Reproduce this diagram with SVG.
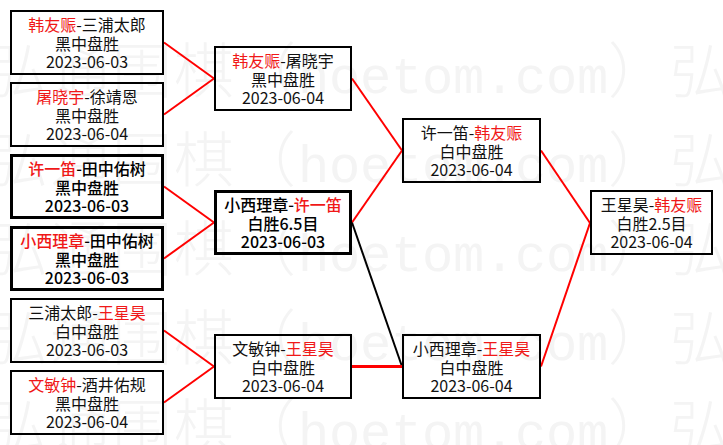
<svg xmlns="http://www.w3.org/2000/svg" xmlns:xlink="http://www.w3.org/1999/xlink" width="723" height="445" viewBox="0 0 723 445">
<style>
.wm{fill:#f4f4f4}
.wc{font-family:"Noto Sans CJK SC",sans-serif;font-size:60px;font-weight:300}
.wl{font-family:"Liberation Mono",monospace;font-size:52px}
.box{fill:none;stroke:#000;stroke-width:2}
.box.b{stroke-width:3}
.t{font-family:"Noto Sans CJK SC","Noto Sans CJK JP",sans-serif;font-size:16px;fill:#111;text-anchor:middle}
.t.b{font-weight:500;fill:#000}
.r{fill:#f01818}
.cr{stroke:#ff0000;stroke-width:2;fill:none}
.ck{stroke:#000;stroke-width:2;fill:none}
</style>
<defs>
<text id="wmrow" class="wm"><tspan class="wc" x="-12 50 112 174 236">弘通围棋（</tspan><tspan class="wl" x="298 329 360 391 422 453 484 515 546 577">hoetom.com</tspan><tspan class="wc" x="608 670">）弘</tspan></text>
</defs>
<rect width="723" height="445" fill="#fff"/>
<g id="watermark">
<use xlink:href="#wmrow" href="#wmrow" y="93"/>
<use xlink:href="#wmrow" href="#wmrow" y="182"/>
<use xlink:href="#wmrow" href="#wmrow" y="271"/>
<use xlink:href="#wmrow" href="#wmrow" y="360"/>
<use xlink:href="#wmrow" href="#wmrow" y="449"/>
</g>
<g id="connectors">
<line class="cr" x1="164" y1="42.5" x2="214" y2="78.5"/>
<line class="cr" x1="164" y1="114.5" x2="214" y2="78.5"/>
<line class="cr" x1="164" y1="186.5" x2="214" y2="222.5"/>
<line class="cr" x1="164" y1="258.5" x2="214" y2="222.5"/>
<line class="cr" x1="164" y1="330.5" x2="214" y2="366.5"/>
<line class="cr" x1="164" y1="402.5" x2="214" y2="366.5"/>
<line class="cr" x1="352" y1="78.5" x2="402" y2="150.5"/>
<line class="cr" x1="352" y1="222.5" x2="402" y2="150.5"/>
<line class="ck" x1="352" y1="222.5" x2="402" y2="366.5"/>
<line class="cr" x1="352" y1="366.5" x2="402" y2="366.5" style="stroke-width:3"/>
<line class="cr" x1="541" y1="150.5" x2="590" y2="223"/>
<line class="cr" x1="541" y1="366.5" x2="590" y2="223"/>
</g>
<g id="n1">
<rect class="box" x="11" y="11" width="152" height="63"/>
<text class="t" x="87" y="31"><tspan class="r">韩友赈</tspan>-三浦太郎</text>
<text class="t" x="87" y="49.5">黑中盘胜</text>
<text class="t" x="87" y="67.5">2023-06-03</text>
</g>
<g id="n2">
<rect class="box" x="11" y="83" width="152" height="63"/>
<text class="t" x="87" y="103"><tspan class="r">屠晓宇</tspan>-徐靖恩</text>
<text class="t" x="87" y="121.5">黑中盘胜</text>
<text class="t" x="87" y="139.5">2023-06-04</text>
</g>
<g id="n3">
<rect class="box b" x="11.5" y="155.5" width="151" height="62"/>
<text class="t b" x="87" y="175"><tspan class="r">许一笛</tspan>-田中佑树</text>
<text class="t b" x="87" y="193.5">黑中盘胜</text>
<text class="t b" x="87" y="211.5">2023-06-03</text>
</g>
<g id="n4">
<rect class="box b" x="11.5" y="227.5" width="151" height="62"/>
<text class="t b" x="87" y="247"><tspan class="r">小西理章</tspan>-田中佑树</text>
<text class="t b" x="87" y="265.5">黑中盘胜</text>
<text class="t b" x="87" y="283.5">2023-06-03</text>
</g>
<g id="n5">
<rect class="box" x="11" y="299" width="152" height="63"/>
<text class="t" x="87" y="319">三浦太郎-<tspan class="r">王星昊</tspan></text>
<text class="t" x="87" y="337.5">白中盘胜</text>
<text class="t" x="87" y="355.5">2023-06-03</text>
</g>
<g id="n6">
<rect class="box" x="11" y="371" width="152" height="63"/>
<text class="t" x="87" y="391"><tspan class="r">文敏钟</tspan>-酒井佑规</text>
<text class="t" x="87" y="409.5">黑中盘胜</text>
<text class="t" x="87" y="427.5">2023-06-04</text>
</g>
<g id="nA">
<rect class="box" x="215" y="47" width="136" height="63"/>
<text class="t" x="283" y="67"><tspan class="r">韩友赈</tspan>-屠晓宇</text>
<text class="t" x="283" y="85.5">黑中盘胜</text>
<text class="t" x="283" y="103.5">2023-06-04</text>
</g>
<g id="nB">
<rect class="box b" x="215.5" y="191.5" width="135" height="62"/>
<text class="t b" x="283" y="211">小西理章-<tspan class="r">许一笛</tspan></text>
<text class="t b" x="283" y="229.5">白胜6.5目</text>
<text class="t b" x="283" y="247.5">2023-06-03</text>
</g>
<g id="nC">
<rect class="box" x="215" y="335" width="136" height="63"/>
<text class="t" x="283" y="355">文敏钟-<tspan class="r">王星昊</tspan></text>
<text class="t" x="283" y="373.5">白中盘胜</text>
<text class="t" x="283" y="391.5">2023-06-04</text>
</g>
<g id="nD">
<rect class="box" x="403" y="119" width="137" height="63"/>
<text class="t" x="471.5" y="139">许一笛-<tspan class="r">韩友赈</tspan></text>
<text class="t" x="471.5" y="157.5">白中盘胜</text>
<text class="t" x="471.5" y="175.5">2023-06-04</text>
</g>
<g id="nE">
<rect class="box" x="403" y="335" width="137" height="63"/>
<text class="t" x="471.5" y="355">小西理章-<tspan class="r">王星昊</tspan></text>
<text class="t" x="471.5" y="373.5">白中盘胜</text>
<text class="t" x="471.5" y="391.5">2023-06-04</text>
</g>
<g id="nF">
<rect class="box" x="591" y="191" width="121" height="63"/>
<text class="t" x="651.5" y="211">王星昊-<tspan class="r">韩友赈</tspan></text>
<text class="t" x="651.5" y="229.5">白胜2.5目</text>
<text class="t" x="651.5" y="247.5">2023-06-04</text>
</g>
</svg>
